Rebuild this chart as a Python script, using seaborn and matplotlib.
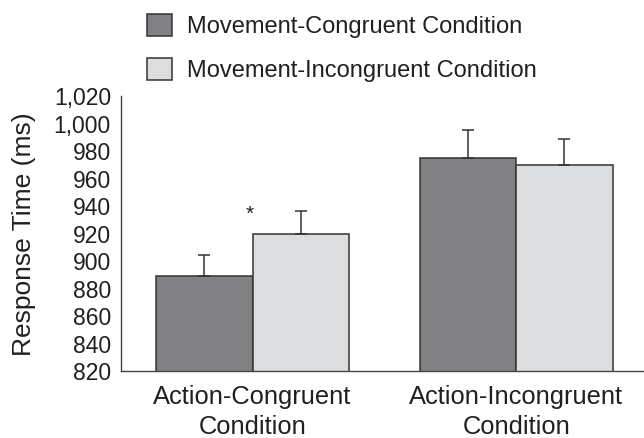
import pandas as pd
import matplotlib
matplotlib.use('Agg')
import matplotlib.pyplot as plt
import matplotlib.patches as mpatches
import seaborn as sns

sns.set_style('white')
plt.rcParams['font.family'] = ['Liberation Sans', 'DejaVu Sans']

# data
conditions = ['Action-Congruent\nCondition', 'Action-Incongruent\nCondition']
series = ['Movement-Congruent Condition', 'Movement-Incongruent Condition']
rt_congruent = [889, 975]
rt_incongruent = [920, 970]
err_congruent = [15.5, 20.5]
err_incongruent = [16.5, 19.2]
yticks = list(range(820, 1021, 20))

df = pd.DataFrame({
    'condition': conditions * 2,
    'movement': [series[0]] * 2 + [series[1]] * 2,
    'rt': rt_congruent + rt_incongruent,
})

dark = '#808184'
light = '#dcdddf'
edge = '#333333'
txt = '#231f20'

fig = plt.figure(figsize=(6.44, 4.38), dpi=100)
ax = fig.add_axes([0.1874, 0.153, 0.8126, 0.6267])

sns.barplot(data=df, x='condition', y='rt', hue='movement', palette=[dark, light],
            width=0.73, edgecolor=edge, linewidth=1.1, legend=False, ax=ax)

# upper-only error bars
for cont, errs in zip(ax.containers, [err_congruent, err_incongruent]):
    for bar, e in zip(cont, errs):
        xc = bar.get_x() + bar.get_width() / 2
        ax.errorbar(xc, bar.get_height(), yerr=[[0], [e]], fmt='none',
                    ecolor=edge, elinewidth=1.1, capsize=4, capthick=1.1)

ax.text(-0.01, 934, '*', ha='center', va='center', fontsize=15, color=txt)

ax.set_ylim(820, 1020)
ax.set_xlim(-0.5, 1.484)
ax.set_yticks(yticks)
ax.set_yticklabels([f'{v:,}' for v in yticks])
ax.tick_params(axis='both', length=0, colors=txt)
ax.tick_params(axis='y', labelsize=16.5, pad=7)
ax.tick_params(axis='x', labelsize=18.4, pad=10)
for lab in ax.get_xticklabels():
    lab.set_linespacing(1.32)
ax.set_xlabel('')
ax.set_ylabel('Response Time (ms)', fontsize=19, color=txt, labelpad=13)

sns.despine(ax=ax)
for s in ['left', 'bottom']:
    ax.spines[s].set_color('#444444')
    ax.spines[s].set_linewidth(1.0)

handles = [mpatches.Patch(facecolor=c, edgecolor=edge, linewidth=1.1, label=l)
           for c, l in zip([dark, light], series)]
fig.legend(handles=handles, loc='upper left', bbox_to_anchor=(147 / 644, 1 - 14 / 438),
           frameon=False, fontsize=17, handlelength=1.05, handleheight=1.05,
           handletextpad=0.63, labelspacing=0.85, borderpad=0, borderaxespad=0,
           labelcolor=txt)

fig.savefig('out.png', dpi=100)
